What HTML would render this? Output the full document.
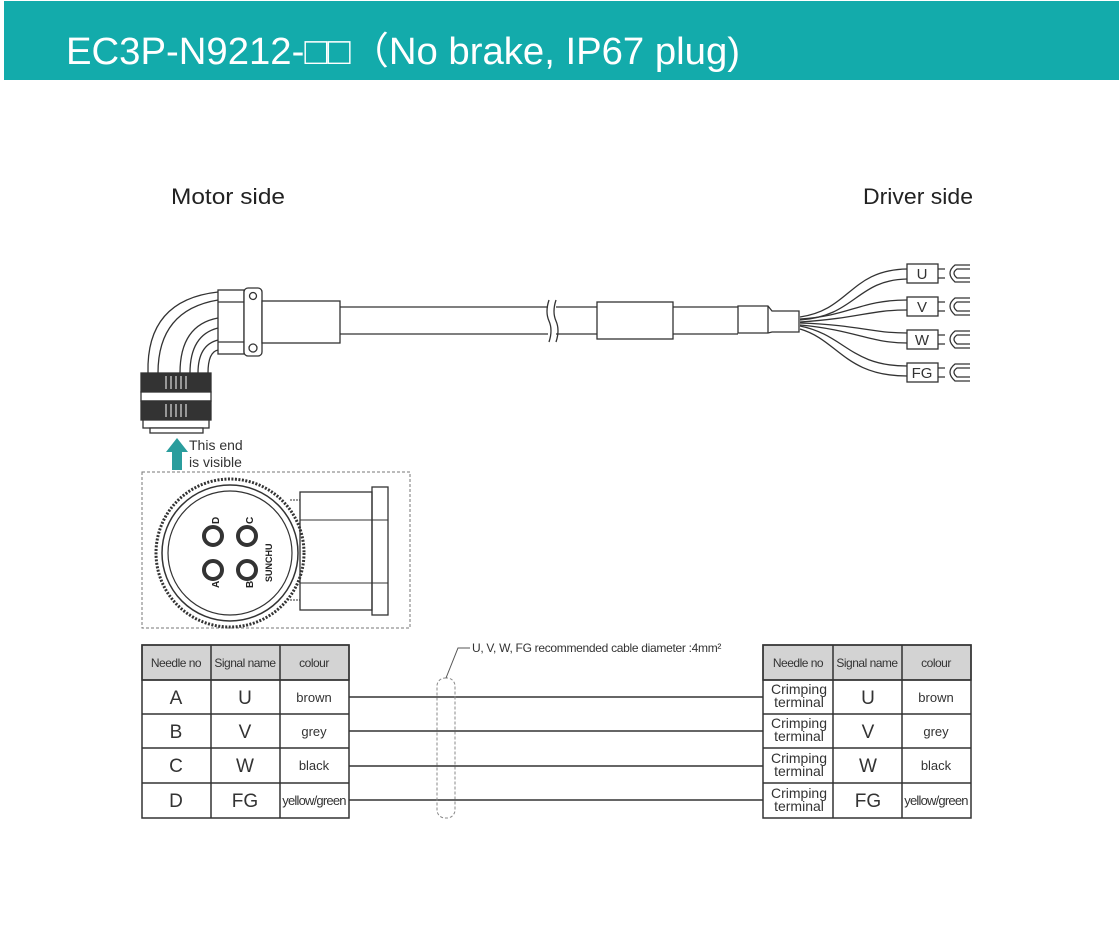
<!DOCTYPE html>
<html><head><meta charset="utf-8"><style>
html,body{margin:0;padding:0;background:#fff;}
svg{display:block;font-family:"Liberation Sans","DejaVu Sans",sans-serif;}
</style></head><body>
<svg width="1119" height="937" viewBox="0 0 1119 937" xmlns="http://www.w3.org/2000/svg">
<rect x="0" y="0" width="1119" height="937" fill="#fff"/>
<rect x="4" y="1" width="1115" height="79" fill="#13abab"/>
<text x="66" y="64" font-size="38" fill="#fff" textLength="674" lengthAdjust="spacingAndGlyphs">EC3P-N9212-□□（No brake, IP67 plug)</text>

<text x="171" y="204" font-size="22" fill="#222" textLength="114" lengthAdjust="spacingAndGlyphs">Motor side</text>
<text x="863" y="204" font-size="22" fill="#222" textLength="110" lengthAdjust="spacingAndGlyphs">Driver side</text>

<g fill="none" stroke="#333" stroke-width="1.3">
<path d="M148 373 Q146 300 218 292"/>
<path d="M158 373 Q158 310 218 300"/>
<path d="M180 373 Q180 325 218 318"/>
<path d="M190 373 Q190 335 218 328"/>
<path d="M198 373 Q198 345 218 340"/>
<path d="M208 373 Q208 352 218 350"/>
<rect x="218" y="290" width="26" height="64" fill="#fff"/>
<line x1="218" y1="302" x2="244" y2="302"/><line x1="218" y1="342" x2="244" y2="342"/>
<rect x="244" y="288" width="18" height="68" rx="4" fill="#fff"/>
<circle cx="253" cy="296" r="3.5"/><circle cx="253" cy="348" r="4"/>
<rect x="262" y="301" width="78" height="42" fill="#fff"/>
<rect x="141" y="373" width="70" height="19" fill="#333"/>
<rect x="141" y="392" width="70" height="9" fill="#fff"/>
<rect x="141" y="401" width="70" height="19" fill="#333"/>
<g stroke="#bbb" stroke-width="1.5">
<line x1="166" y1="376" x2="166" y2="389"/><line x1="171" y1="376" x2="171" y2="389"/><line x1="176" y1="376" x2="176" y2="389"/><line x1="181" y1="376" x2="181" y2="389"/><line x1="186" y1="376" x2="186" y2="389"/>
<line x1="166" y1="404" x2="166" y2="417"/><line x1="171" y1="404" x2="171" y2="417"/><line x1="176" y1="404" x2="176" y2="417"/><line x1="181" y1="404" x2="181" y2="417"/><line x1="186" y1="404" x2="186" y2="417"/>
</g>
<rect x="143" y="420" width="66" height="8" fill="#fff"/>
<rect x="150" y="428" width="53" height="5" fill="#fff"/>
<line x1="340" y1="307" x2="548" y2="307"/><line x1="340" y1="334" x2="548" y2="334"/>
<path d="M549 300 Q545 312 549 321 Q553 330 549 342"/>
<path d="M556 300 Q552 312 556 321 Q560 330 556 342"/>
<line x1="556" y1="307" x2="597" y2="307"/><line x1="556" y1="334" x2="597" y2="334"/>
<rect x="597" y="302" width="76" height="37" fill="#fff"/>
<line x1="673" y1="307" x2="738" y2="307"/><line x1="673" y1="334" x2="738" y2="334"/>
<path d="M738 306 L768 306 L772 311 L799 311 L799 332 L772 332 L768 333 L738 333 Z" fill="#fff"/>
<line x1="768" y1="306" x2="768" y2="333"/>
<path d="M800 317 C850 310 850 270 907 269"/><path d="M800 320 C856 316 856 280 907 279"/>
<path d="M800 319 C850 316 860 300 907 300"/><path d="M800 322 C860 318 870 310 907 310"/>
<path d="M800 323 C860 325 870 333 907 333"/><path d="M800 325 C855 330 870 343 907 343"/>
<path d="M800 326 C845 335 850 366 907 366"/><path d="M800 329 C838 340 845 376 907 376"/>
<g fill="#fff">
<rect x="907" y="264" width="31" height="19"/><rect x="907" y="297" width="31" height="19"/>
<rect x="907" y="330" width="31" height="19"/><rect x="907" y="363" width="31" height="19"/>
</g>
<path d="M938 269 L945 269 M938 278 L945 278"/>
<path d="M938 302 L945 302 M938 311 L945 311"/>
<path d="M938 335 L945 335 M938 344 L945 344"/>
<path d="M938 368 L945 368 M938 377 L945 377"/>
<path d="M970 265 L955 265 Q945 273 955 282 L970 282"/><path d="M970 269 L957 269 Q951 273 957 278 L970 278"/>
<path d="M970 298 L955 298 Q945 306 955 315 L970 315"/><path d="M970 302 L957 302 Q951 306 957 311 L970 311"/>
<path d="M970 331 L955 331 Q945 339 955 348 L970 348"/><path d="M970 335 L957 335 Q951 339 957 344 L970 344"/>
<path d="M970 364 L955 364 Q945 372 955 381 L970 381"/><path d="M970 368 L957 368 Q951 372 957 377 L970 377"/>
</g>
<g font-size="15" fill="#333" text-anchor="middle">
<text x="922" y="279">U</text><text x="922" y="312">V</text><text x="922" y="345">W</text><text x="922" y="378">FG</text>
</g>

<path d="M172 470 L172 452 L166 452 L177 438 L188 452 L182 452 L182 470 Z" fill="#2a9d9d"/>
<text x="189" y="450" font-size="14" fill="#333">This end</text>
<text x="189" y="467" font-size="14" fill="#333">is visible</text>

<rect x="142" y="472" width="268" height="156" fill="none" stroke="#777" stroke-dasharray="3,2"/>
<g fill="none" stroke="#333">
<line x1="290" y1="500" x2="300" y2="500" stroke-dasharray="2,1"/><line x1="290" y1="600" x2="300" y2="600" stroke-dasharray="2,1"/>
<rect x="300" y="492" width="72" height="118" stroke-width="1.3"/>
<rect x="372" y="487" width="16" height="128" stroke-width="1.3"/>
<line x1="300" y1="520" x2="388" y2="520"/><line x1="300" y1="583" x2="388" y2="583"/>
<circle cx="230" cy="553" r="74" stroke-width="3" stroke-dasharray="2,1.5"/>
<circle cx="230" cy="553" r="68" stroke-width="1.5" fill="#fff"/>
<circle cx="230" cy="553" r="62" stroke-width="1.2"/>
<g stroke-width="4"><circle cx="213" cy="536" r="9"/><circle cx="247" cy="536" r="9"/><circle cx="213" cy="570" r="9"/><circle cx="247" cy="570" r="9"/></g>
</g>
<g font-size="10" font-weight="bold" fill="#222">
<text x="0" y="0" transform="translate(219 524) rotate(-90)">D</text>
<text x="0" y="0" transform="translate(253 524) rotate(-90)">C</text>
<text x="0" y="0" transform="translate(219 588) rotate(-90)">A</text>
<text x="0" y="0" transform="translate(253 588) rotate(-90)">B</text>
<text x="0" y="0" transform="translate(272 582) rotate(-90)" font-size="9">SUNCHU</text>
</g>

<g stroke="#333" stroke-width="1.5" fill="none">
<rect x="142" y="645" width="207" height="35" fill="#d3d3d3"/>
<rect x="142" y="645" width="207" height="173"/>
<line x1="211" y1="645" x2="211" y2="818"/><line x1="280" y1="645" x2="280" y2="818"/>
<line x1="142" y1="680" x2="349" y2="680"/><line x1="142" y1="714" x2="349" y2="714"/>
<line x1="142" y1="748" x2="349" y2="748"/><line x1="142" y1="783" x2="349" y2="783"/>
<rect x="763" y="645" width="208" height="35" fill="#d3d3d3"/>
<rect x="763" y="645" width="208" height="173"/>
<line x1="833" y1="645" x2="833" y2="818"/><line x1="902" y1="645" x2="902" y2="818"/>
<line x1="763" y1="680" x2="971" y2="680"/><line x1="763" y1="714" x2="971" y2="714"/>
<line x1="763" y1="748" x2="971" y2="748"/><line x1="763" y1="783" x2="971" y2="783"/>
<line x1="349" y1="697" x2="763" y2="697"/><line x1="349" y1="731" x2="763" y2="731"/>
<line x1="349" y1="766" x2="763" y2="766"/><line x1="349" y1="800" x2="763" y2="800"/>
</g>
<rect x="437" y="678" width="18" height="140" rx="8" fill="none" stroke="#888" stroke-dasharray="3,2"/>
<path d="M446 678 L458 648 L470 648" fill="none" stroke="#555"/>
<text x="472" y="652" font-size="12" fill="#333" letter-spacing="-0.3">U, V, W, FG recommended cable diameter :4mm²</text>

<g font-size="12" fill="#333" text-anchor="middle" letter-spacing="-0.5">
<text x="176" y="667">Needle no</text><text x="245" y="667">Signal name</text><text x="314" y="667">colour</text>
<text x="798" y="667">Needle no</text><text x="867" y="667">Signal name</text><text x="936" y="667">colour</text>
</g>
<g font-size="19" fill="#333" text-anchor="middle">
<text x="176" y="704">A</text><text x="176" y="738">B</text><text x="176" y="772">C</text><text x="176" y="807">D</text>
<text x="245" y="704">U</text><text x="245" y="738">V</text><text x="245" y="772">W</text><text x="245" y="807">FG</text>
<text x="868" y="704">U</text><text x="868" y="738">V</text><text x="868" y="772">W</text><text x="868" y="807">FG</text>
</g>
<g font-size="13" fill="#333" text-anchor="middle">
<text x="314" y="702">brown</text><text x="314" y="736">grey</text><text x="314" y="770">black</text>
<text x="314" y="805" letter-spacing="-0.8">yellow/green</text>
<text x="936" y="702">brown</text><text x="936" y="736">grey</text><text x="936" y="770">black</text>
<text x="936" y="805" letter-spacing="-0.8">yellow/green</text>
</g>
<g font-size="14" fill="#333" text-anchor="middle">
<text x="799" y="694">Crimping</text><text x="799" y="707">terminal</text>
<text x="799" y="728">Crimping</text><text x="799" y="741">terminal</text>
<text x="799" y="763">Crimping</text><text x="799" y="776">terminal</text>
<text x="799" y="798">Crimping</text><text x="799" y="811">terminal</text>
</g>
</svg>
</body></html>
